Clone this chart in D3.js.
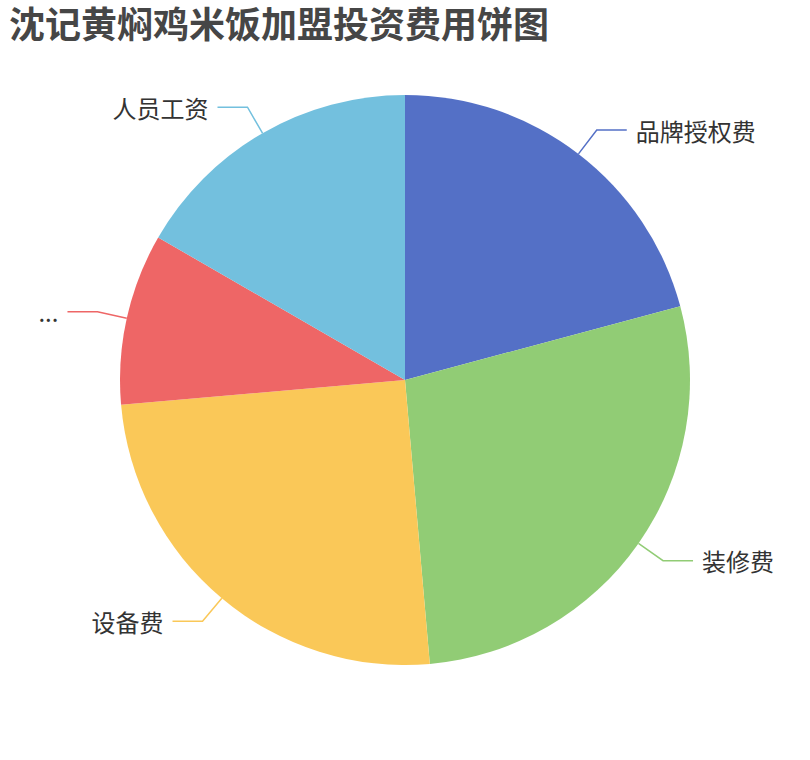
<!DOCTYPE html>
<html>
<head>
<meta charset="utf-8">
<script src="https://cdn.jsdelivr.net/npm/d3@7"></script>
<style>
  body { margin: 0; background: #fff; }
  text { font-family: "Noto Sans CJK SC", "Noto Sans", sans-serif; }
</style>
</head>
<body>
<svg id="chart" width="810" height="760"></svg>
<script>
var titleText = "沈记黄焖鸡米饭加盟投资费用饼图";
var names = ["品牌授权费", "装修费", "设备费", "...", "人员工资"];
var values = [15, 20, 18, 7, 12];
var colors = ["#5470c6", "#91cc75", "#fac858", "#ee6666", "#73c0de"];

var svg = d3.select("#chart"),
    cx = 405, cy = 380, radius = 285,
    len1 = 30, len2 = 30;

svg.append("text")
  .attr("x", 9)
  .attr("y", 38)
  .style("font-size", "36px")
  .style("font-weight", "bold")
  .style("fill", "#464646")
  .text(titleText);

var data = names.map(function(n, i) { return {name: n, value: values[i], color: colors[i]}; });

var pie = d3.pie().sort(null).value(function(d) { return d.value; });
var arc = d3.arc().innerRadius(0).outerRadius(radius);

var g = svg.append("g").attr("transform", "translate(" + cx + "," + cy + ")");
var arcs = pie(data);

g.selectAll("path.slice")
  .data(arcs)
  .enter().append("path")
    .attr("class", "slice")
    .attr("d", arc)
    .style("fill", function(d) { return d.data.color; });

// label lines + labels
arcs.forEach(function(d) {
  var a = (d.startAngle + d.endAngle) / 2,
      s = Math.sin(a), c = -Math.cos(a),
      p0 = [radius * s, radius * c],
      p1 = [(radius + len1) * s, (radius + len1) * c],
      dir = s >= 0 ? 1 : -1,
      p2 = [p1[0] + dir * len2, p1[1]];

  g.append("polyline")
    .attr("points", [p0, p1, p2].map(function(p) { return p.join(","); }).join(" "))
    .style("fill", "none")
    .style("stroke", d.data.color)
    .style("stroke-width", 1.5);

  g.append("text")
    .attr("x", p2[0] + dir * 9)
    .attr("y", p2[1])
    .attr("text-anchor", dir > 0 ? "start" : "end")
    .attr("dominant-baseline", "central")
    .style("font-size", "24px")
    .style("fill", "#333")
    .text(d.data.name);
});
</script>
</body>
</html>
